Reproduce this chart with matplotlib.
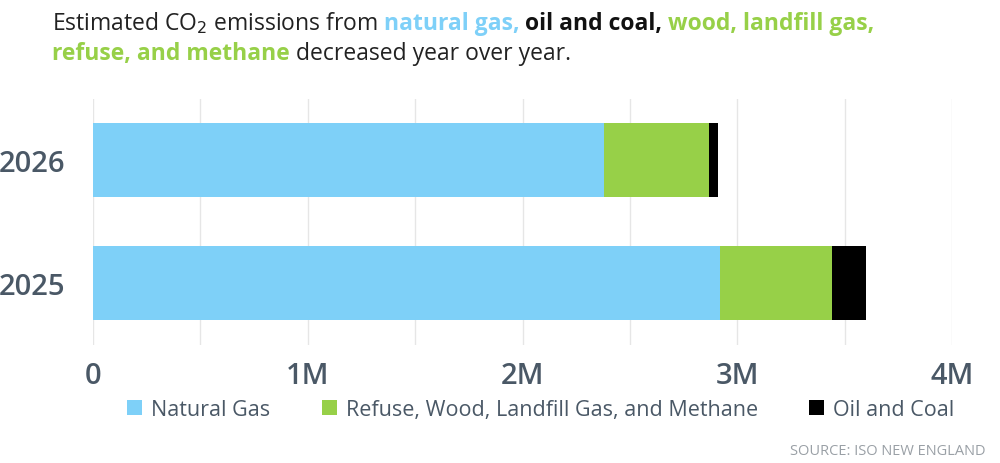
import matplotlib.pyplot as plt
from matplotlib.ticker import FuncFormatter, MultipleLocator

plt.rcParams['font.family'] = ['Open Sans', 'DejaVu Sans']

years = ['2025', '2026']
natural_gas = [2.92e6, 2.38e6]
refuse_wood = [0.52e6, 0.49e6]
oil_coal = [0.16e6, 0.04e6]

c_gas = '#7ed0f8'
c_green = '#97d048'
c_black = '#000000'
c_text = '#4a5866'

fig = plt.figure(figsize=(10, 4.64), dpi=100)
ax = fig.add_axes([0.093, 0.255, 0.859, 0.53])

left = [0, 0]
for vals, col, lab in [(natural_gas, c_gas, 'Natural Gas'),
                       (refuse_wood, c_green, 'Refuse, Wood, Landfill Gas, and Methane'),
                       (oil_coal, c_black, 'Oil and Coal')]:
    ax.barh(years, vals, left=left, color=col, height=0.6, label=lab)
    left = [a + b for a, b in zip(left, vals)]

ax.set_xlim(0, 4e6)
ax.set_ylim(-0.5, 1.5)
ax.xaxis.set_major_locator(MultipleLocator(1e6))
ax.xaxis.set_minor_locator(MultipleLocator(0.5e6))
ax.xaxis.set_major_formatter(FuncFormatter(lambda v, p: '0' if v == 0 else f'{v/1e6:.0f}M'))
ax.grid(axis='x', which='both', color='#e6e6e6', lw=1)
ax.set_axisbelow(True)
for s in ax.spines.values():
    s.set_visible(False)
ax.tick_params(axis='both', which='both', length=0, labelsize=21, labelcolor=c_text)
ax.tick_params(axis='x', pad=12)
ax.tick_params(axis='y', pad=20)
for t in ax.get_xticklabels() + ax.get_yticklabels():
    t.set_fontweight('semibold')

leg = fig.legend(loc='lower left', bbox_to_anchor=(0.108, 0.05), ncol=3, frameon=False,
                 fontsize=15.5, handlelength=0.7, handleheight=0.7, handletextpad=0.4,
                 columnspacing=2.4)
for t in leg.get_texts():
    t.set_color(c_text)

fig.text(0.985, 0.02, 'SOURCE: ISO NEW ENGLAND', ha='right', fontsize=10.5, color='#9aa0a6')

# Title with coloured words, placed piece by piece
fig.canvas.draw()
r = fig.canvas.get_renderer()

def width(txt, w):
    t = fig.text(0, 0, txt, fontsize=16.5, fontweight=w)
    bw = t.get_window_extent(renderer=r).width / fig.bbox.width
    t.remove()
    return bw

space = width('a a', 'normal') - width('aa', 'normal')

def line(pieces, x, y):
    for txt, col, w in pieces:
        t = fig.text(x, y, txt.strip(), fontsize=16.5, color=col, fontweight=w, va='baseline')
        x += t.get_window_extent(renderer=r).width / fig.bbox.width
        if txt.endswith(' '):
            x += space

line([('Estimated CO$_2$ emissions from ', '#222222', 'normal'),
      ('natural gas, ', c_gas, 'bold'),
      ('oil and coal, ', '#111111', 'bold'),
      ('wood, landfill gas,', c_green, 'bold')], 0.052, 0.935)
line([('refuse, and methane ', c_green, 'bold'),
      ('decreased year over year.', '#222222', 'normal')], 0.052, 0.87)

fig.savefig('out.png', dpi=100)
